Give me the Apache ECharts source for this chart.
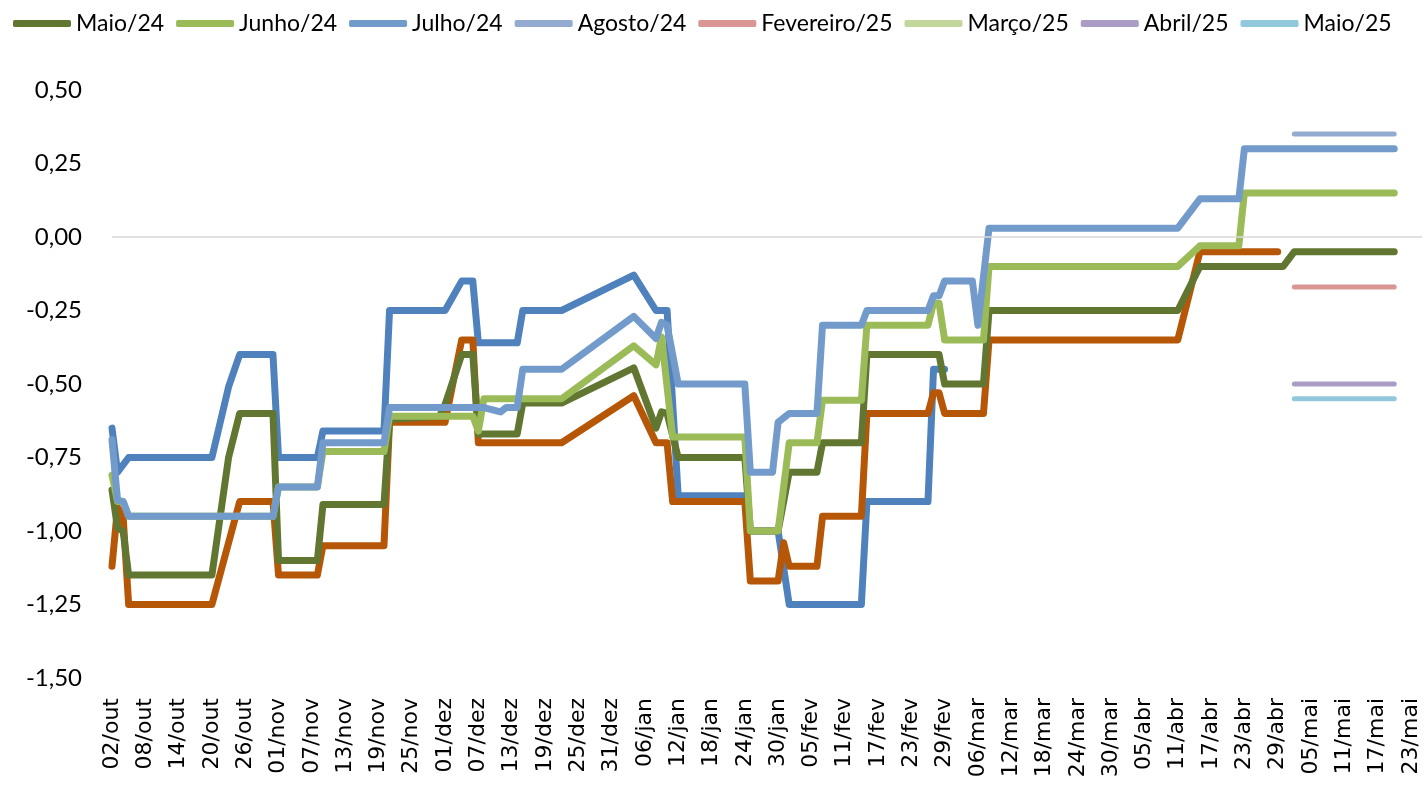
<!DOCTYPE html>
<html>
<head>
<meta charset="utf-8">
<style>
  html, body { margin: 0; padding: 0; background: #fff; }
  #chart { width: 1424px; height: 789px; }
</style>
<script src="https://cdn.jsdelivr.net/npm/echarts@6/dist/echarts.min.js"></script>
</head>
<body>
<div id="chart"></div>
<script>
// daily category axis, 02/out/2023 .. 25/mai/2024
const monthNames = ['jan', 'fev', 'mar', 'abr', 'mai', 'jun', 'jul', 'ago', 'set', 'out', 'nov', 'dez'];
const days = [];
for (let t = new Date(2023, 9, 2); t <= new Date(2024, 4, 25); t.setDate(t.getDate() + 1)) {
  days.push(String(t.getDate()).padStart(2, '0') + '/' + monthNames[t.getMonth()]);
}

const legendNames = ['Maio/24', 'Junho/24', 'Julho/24', 'Agosto/24', 'Fevereiro/25', 'Março/25', 'Abril/25', 'Maio/25'];

// series (breakpoints only)
const marco24 = [
  ['02/out', -0.65], ['03/out', -0.80], ['05/out', -0.75], ['20/out', -0.75], ['23/out', -0.51],
  ['25/out', -0.40], ['31/out', -0.40], ['01/nov', -0.75], ['08/nov', -0.75], ['09/nov', -0.66],
  ['20/nov', -0.66], ['21/nov', -0.25], ['01/dez', -0.25], ['04/dez', -0.15], ['06/dez', -0.15],
  ['07/dez', -0.36], ['14/dez', -0.36], ['15/dez', -0.25], ['22/dez', -0.25], ['04/jan', -0.13],
  ['08/jan', -0.25], ['10/jan', -0.25], ['12/jan', -0.88], ['24/jan', -0.88], ['25/jan', -1.00],
  ['30/jan', -1.00], ['01/fev', -1.25], ['14/fev', -1.25], ['15/fev', -0.90], ['26/fev', -0.90],
  ['27/fev', -0.45], ['29/fev', -0.45]
];
const abril24 = [
  ['02/out', -1.12], ['03/out', -0.92], ['04/out', -0.95], ['05/out', -1.25], ['20/out', -1.25],
  ['25/out', -0.90], ['31/out', -0.90], ['01/nov', -1.15], ['08/nov', -1.15], ['09/nov', -1.05],
  ['20/nov', -1.05], ['21/nov', -0.63], ['01/dez', -0.63], ['04/dez', -0.35], ['06/dez', -0.35],
  ['07/dez', -0.70], ['22/dez', -0.70], ['04/jan', -0.54], ['08/jan', -0.70], ['10/jan', -0.70],
  ['11/jan', -0.90], ['24/jan', -0.90], ['25/jan', -1.17], ['30/jan', -1.17], ['31/jan', -1.04],
  ['01/fev', -1.12], ['06/fev', -1.12], ['07/fev', -0.95], ['14/fev', -0.95], ['15/fev', -0.60],
  ['26/fev', -0.60], ['27/fev', -0.53], ['28/fev', -0.53], ['29/fev', -0.60], ['07/mar', -0.60],
  ['08/mar', -0.35], ['11/abr', -0.35], ['15/abr', -0.05], ['29/abr', -0.05]
];
const maio24 = [
  ['02/out', -0.86], ['03/out', -0.99], ['04/out', -1.00], ['05/out', -1.15], ['20/out', -1.15],
  ['23/out', -0.75], ['25/out', -0.60], ['31/out', -0.60], ['01/nov', -1.10], ['08/nov', -1.10],
  ['09/nov', -0.91], ['20/nov', -0.91], ['21/nov', -0.62], ['30/nov', -0.61], ['01/dez', -0.57],
  ['04/dez', -0.40], ['06/dez', -0.40], ['07/dez', -0.67], ['14/dez', -0.67], ['15/dez', -0.565],
  ['22/dez', -0.565], ['04/jan', -0.445], ['08/jan', -0.65], ['09/jan', -0.595], ['10/jan', -0.60],
  ['12/jan', -0.75], ['24/jan', -0.75], ['25/jan', -1.00], ['30/jan', -1.00], ['01/fev', -0.80],
  ['06/fev', -0.80], ['07/fev', -0.70], ['14/fev', -0.70], ['15/fev', -0.40], ['28/fev', -0.40],
  ['29/fev', -0.50], ['07/mar', -0.50], ['08/mar', -0.25], ['11/abr', -0.25], ['15/abr', -0.10],
  ['30/abr', -0.10], ['02/mai', -0.05], ['20/mai', -0.05]
];
const junho24 = [
  ['02/out', -0.81], ['03/out', -0.90], ['04/out', -0.90], ['05/out', -0.95], ['31/out', -0.95],
  ['01/nov', -0.85], ['08/nov', -0.85], ['09/nov', -0.73], ['20/nov', -0.73], ['21/nov', -0.61],
  ['06/dez', -0.61], ['07/dez', -0.66], ['08/dez', -0.55], ['22/dez', -0.55], ['04/jan', -0.37],
  ['08/jan', -0.435], ['09/jan', -0.34], ['11/jan', -0.68], ['24/jan', -0.68], ['25/jan', -1.00],
  ['30/jan', -1.00], ['01/fev', -0.70], ['06/fev', -0.70], ['07/fev', -0.555], ['14/fev', -0.555],
  ['15/fev', -0.30], ['26/fev', -0.30], ['27/fev', -0.225], ['28/fev', -0.225], ['29/fev', -0.35],
  ['07/mar', -0.35], ['08/mar', -0.10], ['11/abr', -0.10], ['15/abr', -0.03], ['22/abr', -0.03],
  ['23/abr', 0.15], ['20/mai', 0.15]
];
const julho24 = [
  ['02/out', -0.69], ['03/out', -0.895], ['04/out', -0.90], ['05/out', -0.95], ['31/out', -0.95],
  ['01/nov', -0.85], ['08/nov', -0.85], ['09/nov', -0.70], ['20/nov', -0.70], ['21/nov', -0.58],
  ['08/dez', -0.58], ['11/dez', -0.595], ['12/dez', -0.58], ['14/dez', -0.58], ['15/dez', -0.45],
  ['22/dez', -0.45], ['04/jan', -0.27], ['08/jan', -0.345], ['09/jan', -0.29], ['10/jan', -0.30],
  ['12/jan', -0.50], ['24/jan', -0.50], ['25/jan', -0.80], ['29/jan', -0.80], ['30/jan', -0.63],
  ['01/fev', -0.60], ['06/fev', -0.60], ['07/fev', -0.30], ['14/fev', -0.30], ['15/fev', -0.25],
  ['26/fev', -0.25], ['27/fev', -0.20], ['28/fev', -0.20], ['29/fev', -0.15], ['05/mar', -0.15],
  ['06/mar', -0.30], ['08/mar', 0.03], ['11/abr', 0.03], ['15/abr', 0.13], ['22/abr', 0.13],
  ['23/abr', 0.30], ['20/mai', 0.30]
];
const agosto24 = [['02/mai', 0.35], ['20/mai', 0.35]];
const fevereiro25 = [['02/mai', -0.17], ['20/mai', -0.17]];
const marco25 = [];
const abril25 = [['02/mai', -0.50], ['20/mai', -0.50]];
const maio25 = [['02/mai', -0.55], ['20/mai', -0.55]];

function line(name, data, color, width) {
  return {
    name, type: 'line', data, z: 3,
    showSymbol: false, symbol: 'none', animation: false,
    itemStyle: { color },
    lineStyle: { color, width, cap: 'round', join: 'round' }
  };
}

const series = [
  {
    name: 'zero', type: 'line', data: [], z: 1, silent: true,
    markLine: {
      silent: true, symbol: 'none', animation: false,
      label: { show: false },
      lineStyle: { color: '#D9D9D9', width: 1.5, type: 'solid' },
      data: [{ yAxis: 0 }]
    }
  },
  line('Março/24', marco24, '#4F81BD', 7),
  line('Abril/24', abril24, '#B65708', 7),
  line('Maio/24', maio24, '#617731', 7),
  line('Junho/24', junho24, '#9BBB59', 7),
  line('Julho/24', julho24, '#729BCB', 7),
  line('Agosto/24', agosto24, '#93AAD1', 5),
  line('Fevereiro/25', fevereiro25, '#D99694', 5),
  line('Março/25', marco25, '#C3D69B', 5),
  line('Abril/25', abril25, '#AB9CC6', 5),
  line('Maio/25', maio25, '#92C8DB', 5)
];

const chart = echarts.init(document.getElementById('chart'));
chart.setOption({
  animation: false,
  backgroundColor: '#fff',
  legend: {
    data: legendNames,
    top: 7, left: 8,
    icon: 'roundRect', itemWidth: 58, itemHeight: 7, itemGap: 12,
    textStyle: { fontFamily: 'Lato', fontSize: 23, color: '#000' }
  },
  grid: { left: 112, right: 2, top: 90, bottom: 111 },
  xAxis: {
    type: 'category', data: days, boundaryGap: false,
    axisLine: { show: false }, axisTick: { show: false },
    axisLabel: {
      interval: 5, rotate: 90, margin: 20,
      fontFamily: 'DejaVu Sans', fontSize: 22, color: '#000'
    }
  },
  yAxis: {
    type: 'value', min: -1.5, max: 0.5, interval: 0.25,
    axisLine: { show: false }, axisTick: { show: false }, splitLine: { show: false },
    axisLabel: {
      margin: 30, fontFamily: 'Lato', fontSize: 24, color: '#000',
      formatter: (v) => v.toFixed(2).replace('.', ',')
    }
  },
  series
});
</script>
</body>
</html>
